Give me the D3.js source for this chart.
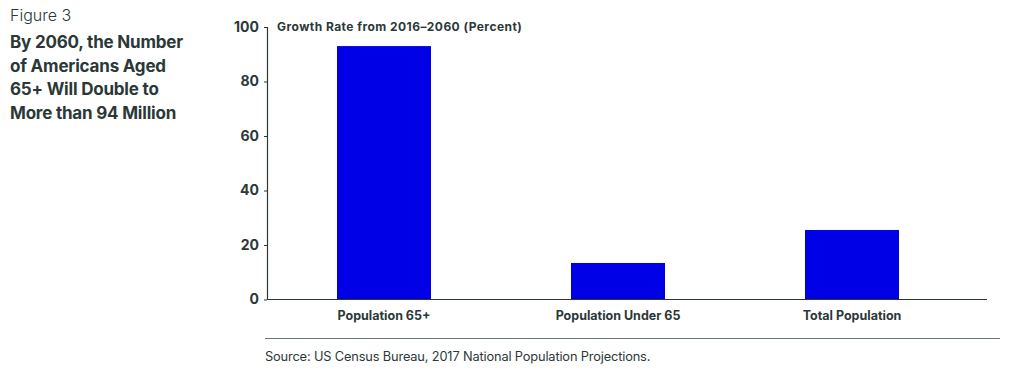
<!DOCTYPE html>
<html><head><meta charset="utf-8">
<script src="https://cdn.jsdelivr.net/npm/d3@7"></script>
<style>
body{margin:0;background:#fff;}
text{font-family:Inter,"Liberation Sans",sans-serif;}
</style></head>
<body><svg id="c" width="1024" height="379"></svg>
<script>
const categories = ["Population 65+", "Population Under 65", "Total Population"];
const values = [93.0, 13.4, 25.5];
const yTicks = [0, 20, 40, 60, 80, 100];

const svg = d3.select("#c");
const ink = "#2b3838";

const x = d3.scaleBand().domain(categories).range([267, 969]).paddingInner(0.6).paddingOuter(0.3);
const y = d3.scaleLinear().domain([0, 100]).range([299.5, 27]);

// title block
svg.append("text").attr("x", 10).attr("y", 21).attr("font-size", 16).attr("font-weight", 300).attr("fill", ink).text("Figure 3");
const titleLines = ["By 2060, the Number", "of Americans Aged", "65+ Will Double to", "More than 94 Million"];
titleLines.forEach((t, i) => {
  svg.append("text").attr("x", 10).attr("y", 48 + i * 23.5).attr("font-size", 17).attr("font-weight", 700)
    .attr("fill", ink).attr("letter-spacing", -0.2).text(t);
});

// bars
svg.selectAll("rect.bar").data(categories).enter().append("rect")
  .attr("class", "bar")
  .attr("x", d => x(d) + x.bandwidth() / 2 - 47)
  .attr("width", 94)
  .attr("y", (d, i) => y(values[i]))
  .attr("height", (d, i) => y(0) - y(values[i]))
  .attr("fill", "#0000e6");

// y axis
const yAxis = d3.axisLeft(y).tickValues(yTicks).tickSize(3).tickPadding(5);
const ya = svg.append("g").attr("transform", "translate(267,0)").call(yAxis);
ya.select(".domain").remove();
ya.selectAll(".tick line").attr("stroke", ink);
ya.selectAll(".tick text").attr("font-size", 14).attr("font-weight", 700).attr("fill", ink)
  .attr("font-family", "Inter, 'Liberation Sans', sans-serif");
svg.append("line").attr("x1", 267.5).attr("x2", 267.5).attr("y1", y(100)).attr("y2", y(0)).attr("stroke", ink).attr("stroke-width", 1.2);

// x axis
const xAxis = d3.axisBottom(x).tickSize(0).tickPadding(12);
const xa = svg.append("g").attr("transform", `translate(0,${y(0)})`).call(xAxis);
xa.select(".domain").remove();
xa.selectAll(".tick text").attr("font-size", 12.5).attr("font-weight", 700).attr("fill", ink)
  .attr("font-family", "Inter, 'Liberation Sans', sans-serif");
svg.append("line").attr("x1", 267).attr("x2", 987).attr("y1", y(0)).attr("y2", y(0)).attr("stroke", ink).attr("stroke-width", 1.2);

// axis title
svg.append("text").attr("x", 277).attr("y", 31).attr("font-size", 12).attr("font-weight", 700).attr("fill", ink)
  .attr("letter-spacing", 0.45)
  .text("Growth Rate from 2016–2060 (Percent)");

// source
svg.append("line").attr("x1", 265).attr("x2", 1000).attr("y1", 338.5).attr("y2", 338.5).attr("stroke", "#6a7777").attr("stroke-width", 1);
svg.append("text").attr("x", 265).attr("y", 361).attr("font-size", 12.8).attr("fill", ink).attr("letter-spacing", -0.15)
  .text("Source: US Census Bureau, 2017 National Population Projections.");
</script></body></html>
